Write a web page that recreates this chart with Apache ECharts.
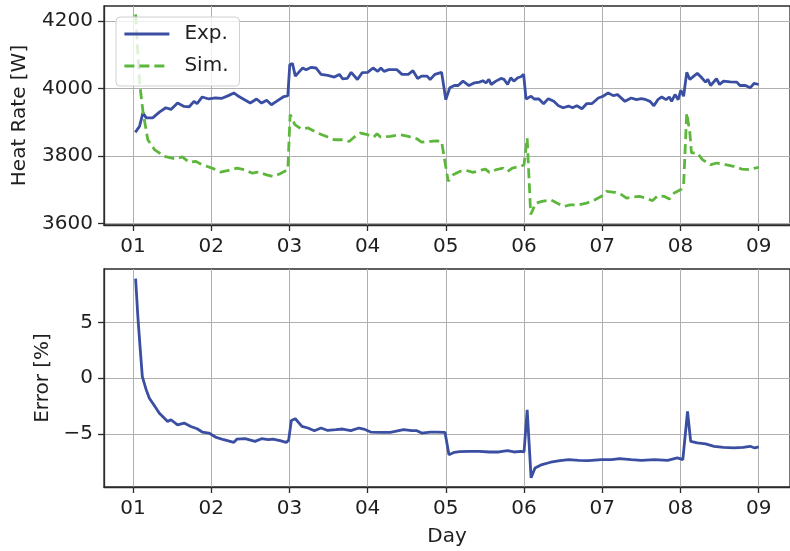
<!DOCTYPE html>
<html>
<head>
<meta charset="utf-8">
<script src="https://cdn.jsdelivr.net/npm/echarts@6.0.0/dist/echarts.min.js"></script>
<style>
  html, body { margin: 0; padding: 0; background: #ffffff; }
  #chart { width: 790px; height: 551px; }
</style>
</head>
<body>
<div id="chart"></div>
<script>
// ---- data ----
const dayTicks = [1, 2, 3, 4, 5, 6, 7, 8, 9];
const dayLabels = ['01', '02', '03', '04', '05', '06', '07', '08', '09'];
const heatTicks = [3600, 3800, 4000, 4200];
const errTicks = [-5, 0, 5];
const errTickLabels = ['\u22125', '0', '5'];

const expDays = [
  1.03, 1.085, 1.127, 1.17, 1.253, 1.338, 1.42, 1.486, 1.57, 1.654, 1.72, 1.78, 1.82, 1.886, 1.97,
  2.055, 2.14, 2.22, 2.29, 2.35, 2.41, 2.5, 2.58, 2.645, 2.71, 2.77, 2.835, 2.92, 2.98,
  3.005, 3.04, 3.076, 3.13, 3.17, 3.215, 3.28, 3.34, 3.405, 3.49, 3.575, 3.64, 3.68, 3.74, 3.79, 3.87, 3.93,
  4.0, 4.07, 4.13, 4.17, 4.21, 4.27, 4.375, 4.44, 4.52, 4.58, 4.64, 4.69, 4.76, 4.80, 4.86, 4.946, 4.97,
  5.0, 5.05, 5.11, 5.157, 5.22, 5.296, 5.367, 5.43, 5.473, 5.515, 5.55, 5.58, 5.64, 5.705, 5.745, 5.79, 5.83, 5.87, 5.92, 5.96, 5.995,
  6.025, 6.09, 6.13, 6.19, 6.25, 6.31, 6.38, 6.44, 6.5, 6.57, 6.62, 6.675, 6.74, 6.80, 6.866, 6.95,
  7.01, 7.076, 7.14, 7.195, 7.29, 7.37, 7.436, 7.50, 7.56, 7.61, 7.66, 7.71, 7.76, 7.815, 7.857, 7.886, 7.93, 7.97,
  8.005, 8.04, 8.08, 8.12, 8.17, 8.215, 8.26, 8.32, 8.35, 8.385, 8.46, 8.5, 8.55, 8.635, 8.72, 8.76, 8.83, 8.89, 8.94, 9.0
];
const expValues = [
  3870, 3888, 3928, 3913, 3913, 3930, 3943, 3938, 3957, 3947, 3946, 3962, 3955, 3975, 3969,
  3972, 3971, 3979, 3987, 3977, 3969, 3957, 3969, 3957, 3965, 3952, 3962, 3975, 3979,
  4071, 4074, 4037, 4051, 4061, 4056, 4063, 4061, 4042, 4039, 4034, 4042, 4029, 4030, 4048, 4027, 4047,
  4048, 4061, 4051, 4061, 4051, 4056, 4056, 4042, 4042, 4053, 4030, 4037, 4037, 4027, 4042, 4048, 4045,
  3967, 4002, 4009, 4009, 4022, 4009, 4017, 4019, 4023, 4017, 4027, 4012, 4022, 4030, 4027, 4012, 4032, 4022, 4032, 4035, 4042,
  3969, 3977, 3969, 3969, 3955, 3970, 3962, 3949, 3943, 3948, 3943, 3949, 3940, 3955, 3955, 3972,
  3977, 3987, 3979, 3982, 3962, 3972, 3967, 3970, 3967, 3962, 3949, 3967, 3975, 3967, 3975, 3962, 3982, 3967,
  3995, 3977, 4048, 4027, 4037, 4045, 4035, 4019, 4027, 4009, 4029, 4012, 4022, 4020, 4019, 4009, 4009, 4002, 4015, 4012
];

const simDays = [
  1.034, 1.085, 1.13, 1.19, 1.275, 1.40, 1.55, 1.63, 1.72, 1.80, 1.886,
  2.01, 2.12, 2.22, 2.33, 2.435, 2.52, 2.60, 2.71, 2.79, 2.88, 2.98,
  3.01, 3.07, 3.15, 3.24, 3.36, 3.49, 3.575, 3.68, 3.765, 3.83, 3.91,
  4.0, 4.08, 4.12, 4.165, 4.29, 4.42, 4.52, 4.63, 4.69, 4.80, 4.88, 4.946, 4.97,
  5.03, 5.094, 5.177, 5.26, 5.35, 5.43, 5.506, 5.557, 5.64, 5.73, 5.79, 5.85, 5.96,
  6.0, 6.04, 6.085, 6.15, 6.23, 6.34, 6.42, 6.51, 6.59, 6.70, 6.80, 6.907, 6.99,
  7.055, 7.16, 7.245, 7.31, 7.39, 7.475, 7.56, 7.64, 7.71, 7.79, 7.857, 7.92,
  8.005, 8.04, 8.08, 8.12, 8.14, 8.215, 8.28, 8.385, 8.47, 8.575, 8.68, 8.785, 8.89, 8.95, 9.0
];
const simValues = [
  4220, 4017, 3928, 3848, 3819, 3799, 3791, 3797, 3781, 3784, 3774,
  3764, 3752, 3757, 3764, 3759, 3749, 3752, 3744, 3739, 3747, 3759,
  3923, 3893, 3880, 3883, 3868, 3856, 3848, 3848, 3843, 3856, 3868,
  3863, 3856, 3866, 3856, 3858, 3863, 3858, 3851, 3841, 3843, 3845, 3843, 3848,
  3725, 3744, 3754, 3757, 3751, 3757, 3761, 3751, 3759, 3764, 3754, 3764, 3769,
  3774, 3853, 3626, 3660, 3665, 3670, 3660, 3650, 3655, 3655, 3660, 3670, 3680,
  3695, 3692, 3685, 3675, 3678, 3680, 3675, 3667, 3682, 3680, 3672, 3690,
  3700, 3715, 3928, 3868, 3809, 3809, 3789, 3774, 3779, 3774, 3769, 3761, 3759, 3764, 3766
];

const errDays = [
  1.034, 1.063, 1.094, 1.12, 1.17, 1.21, 1.275, 1.338, 1.40, 1.443, 1.486, 1.57, 1.654, 1.74, 1.82, 1.886, 1.97,
  2.055, 2.16, 2.29, 2.33, 2.435, 2.56, 2.645, 2.73, 2.79, 2.88, 2.96, 2.99,
  3.025, 3.076, 3.16, 3.237, 3.32, 3.405, 3.49, 3.595, 3.68, 3.785, 3.89, 3.95,
  4.04, 4.165, 4.29, 4.46, 4.566, 4.63, 4.69, 4.80, 4.88, 4.99,
  5.04, 5.11, 5.177, 5.30, 5.43, 5.557, 5.68, 5.79, 5.87, 5.96,
  6.0, 6.04, 6.09, 6.14, 6.23, 6.34, 6.46, 6.57, 6.70, 6.82, 6.99,
  7.12, 7.22, 7.37, 7.50, 7.667, 7.835, 7.96,
  8.03, 8.09, 8.13, 8.215, 8.32, 8.43, 8.55, 8.68, 8.80, 8.89, 8.95, 9.0
];
const errValues = [
  8.93, 5.5, 2.53, 0.14, -1.04, -1.79, -2.47, -3.13, -3.57, -3.87, -3.72, -4.17, -4.02, -4.32, -4.53, -4.82, -4.91,
  -5.27, -5.51, -5.75, -5.45, -5.42, -5.66, -5.42, -5.51, -5.45, -5.60, -5.75, -5.57,
  -3.78, -3.63, -4.32, -4.46, -4.70, -4.46, -4.68, -4.61, -4.55, -4.70, -4.46, -4.55,
  -4.82, -4.86, -4.86, -4.61, -4.70, -4.70, -4.91, -4.82, -4.82, -4.86,
  -6.85, -6.64, -6.58, -6.55, -6.55, -6.61, -6.61, -6.49, -6.61, -6.55,
  -6.61, -2.83, -8.93, -8.04, -7.74, -7.53, -7.38, -7.29, -7.36, -7.38, -7.29,
  -7.29, -7.20, -7.29, -7.36, -7.29, -7.36, -7.14,
  -7.29, -2.98, -5.66, -5.80, -5.89, -6.10, -6.19, -6.25, -6.19, -6.10, -6.25, -6.16
];

// ---- chart ----
const zip = (xs, ys) => xs.map((x, i) => [x, ys[i]]);
const FONT = 'DejaVu Sans';
const TXT = '#1f1f1f';
const FRAME = '#2b2b2b';
const BLUE = '#3a4ea2';
const GREEN = '#5db73c';
const LW = 2.8;

function xAxisFor(gi) {
  return {
    type: 'value', gridIndex: gi, min: 0.63, max: 9.4,
    axisLine: { show: true, onZero: false, lineStyle: { color: FRAME, width: 1.3 } },
    axisTick: { show: true, length: 6, customValues: dayTicks, lineStyle: { color: FRAME, width: 1.3 } },
    axisLabel: {
      customValues: dayTicks, margin: 12, fontSize: 20, color: TXT, fontFamily: FONT,
      formatter: v => dayLabels[dayTicks.indexOf(v)]
    },
    splitLine: { show: true, lineStyle: { color: '#b0b0b0', width: 1 } }
  };
}
function yAxisFor(gi, min, max, ticks, labels, name, gap) {
  return {
    type: 'value', gridIndex: gi, min: min, max: max,
    name: name, nameLocation: 'middle', nameGap: gap, nameRotate: 90,
    nameTextStyle: { fontSize: 20, color: TXT, fontFamily: FONT },
    axisLine: { show: true, onZero: false, lineStyle: { color: FRAME, width: 1.3 } },
    axisTick: { show: true, length: 6, customValues: ticks, lineStyle: { color: FRAME, width: 1.3 } },
    axisLabel: {
      customValues: ticks, margin: 11, fontSize: 20, color: TXT, fontFamily: FONT,
      formatter: v => labels[ticks.indexOf(v)]
    },
    splitLine: { show: true, lineStyle: { color: '#b0b0b0', width: 1 } }
  };
}

const chart = echarts.init(document.getElementById('chart'), null, { renderer: 'canvas' });
chart.setOption({
  animation: false,
  backgroundColor: '#ffffff',
  grid: [
    { left: 104, top: 6, width: 693, height: 219, show: true, borderColor: FRAME, borderWidth: 1.3, backgroundColor: 'transparent' },
    { left: 104, top: 269, width: 693, height: 218, show: true, borderColor: FRAME, borderWidth: 1.3, backgroundColor: 'transparent' }
  ],
  xAxis: [
    xAxisFor(0),
    Object.assign(xAxisFor(1), {
      name: 'Day', nameLocation: 'middle', nameGap: 40,
      nameTextStyle: { fontSize: 20, color: TXT, fontFamily: FONT }
    })
  ],
  yAxis: [
    yAxisFor(0, 3595, 4245, heatTicks, heatTicks.map(String), 'Heat Rate [W]', 74),
    yAxisFor(1, -9.75, 9.8, errTicks, errTickLabels, 'Error [%]', 51)
  ],
  legend: {
    data: ['Exp.', 'Sim.'],
    orient: 'vertical', left: 116, top: 17,
    itemWidth: 45, itemHeight: 14, itemGap: 12,
    padding: [7, 11, 10, 7],
    backgroundColor: 'rgba(255,255,255,0.8)',
    borderColor: '#d0d0d0', borderWidth: 1, borderRadius: 4,
    itemStyle: { opacity: 0 },
    lineStyle: { width: LW },
    textStyle: { fontSize: 20, color: TXT, fontFamily: FONT, padding: [0, 0, 0, 10] }
  },
  series: [
    {
      name: 'Exp.', type: 'line', xAxisIndex: 0, yAxisIndex: 0,
      data: zip(expDays, expValues), symbol: 'none',
      lineStyle: { color: BLUE, width: LW }, itemStyle: { color: BLUE }
    },
    {
      name: 'Sim.', type: 'line', xAxisIndex: 0, yAxisIndex: 0,
      data: zip(simDays, simValues), symbol: 'none',
      lineStyle: { color: GREEN, width: LW, type: [10, 5] }, itemStyle: { color: GREEN }
    },
    {
      name: 'Error', type: 'line', xAxisIndex: 1, yAxisIndex: 1,
      data: zip(errDays, errValues), symbol: 'none',
      lineStyle: { color: BLUE, width: LW }, itemStyle: { color: BLUE }
    }
  ]
});
</script>
</body>
</html>
